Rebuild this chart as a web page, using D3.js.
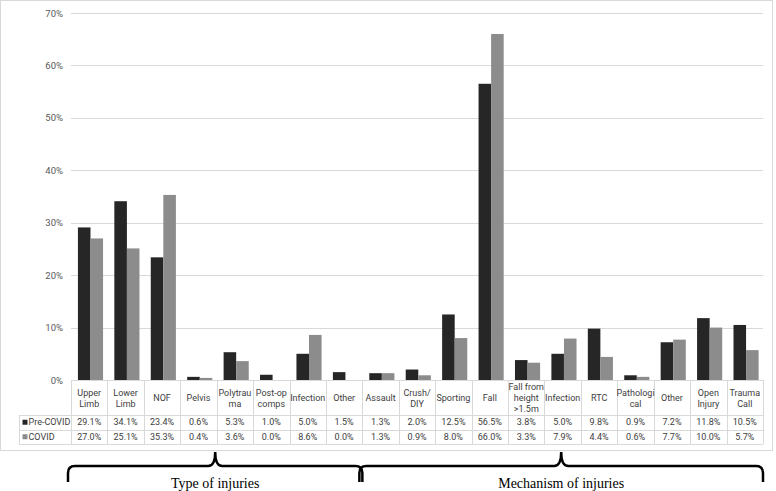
<!DOCTYPE html>
<html>
<head>
<meta charset="utf-8">
<script src="https://cdn.jsdelivr.net/npm/d3@7"></script>
<style>
  body { margin: 0; background: #fff; }
  svg text { font-family: Roboto, "Liberation Sans", sans-serif; }
</style>
</head>
<body>
<svg id="chart" width="776" height="491"></svg>
<script>
const categories = [
  "Upper\nLimb", "Lower\nLimb", "NOF", "Pelvis", "Polytrau\nma", "Post-op\ncomps",
  "Infection", "Other", "Assault", "Crush/\nDIY", "Sporting", "Fall",
  "Fall from\nheight\n>1.5m", "Infection", "RTC", "Pathologi\ncal", "Other",
  "Open\nInjury", "Trauma\nCall"
];
const preCovid = [29.1, 34.1, 23.4, 0.6, 5.3, 1.0, 5.0, 1.5, 1.3, 2.0, 12.5, 56.5, 3.8, 5.0, 9.8, 0.9, 7.2, 11.8, 10.5];
const covid = [27.0, 25.1, 35.3, 0.4, 3.6, 0.0, 8.6, 0.0, 1.3, 0.9, 8.0, 66.0, 3.3, 7.9, 4.4, 0.6, 7.7, 10.0, 5.7];
const seriesNames = ["Pre-COVID", "COVID"];
const yTicks = [0, 10, 20, 30, 40, 50, 60, 70];
const groups = [
  { name: "Type of injuries", from: 0, to: 7 },
  { name: "Mechanism of injuries", from: 8, to: 18 }
];

const colors = ["#262626", "#8c8c8c"];
const gridColor = "#d9d9d9";
const textColor = "#404040";
const svg = d3.select("#chart");

// outer chart frame
svg.append("rect")
  .attr("x", 0.5).attr("y", 0.5)
  .attr("width", 772).attr("height", 450)
  .attr("fill", "none").attr("stroke", gridColor);

const x = d3.scaleBand().domain(d3.range(categories.length)).range([71, 763]).padding(0);
const y = d3.scaleLinear().domain([0, 70]).range([380, 13]);
const inner = d3.scaleBand().domain([0, 1]).range([0, x.bandwidth() * 0.69]);
const off = x.bandwidth() * 0.19;

// gridlines + y labels
const g = svg.append("g");
g.selectAll("line.grid")
  .data(yTicks)
  .enter()
  .append("line")
  .attr("x1", 71).attr("x2", 763)
  .attr("y1", (d) => Math.round(y(d)) + 0.5)
  .attr("y2", (d) => Math.round(y(d)) + 0.5)
  .attr("stroke", gridColor);

g.selectAll("text.ytick")
  .data(yTicks)
  .enter()
  .append("text")
  .attr("x", 63)
  .attr("y", (d) => y(d) + 3.5)
  .attr("text-anchor", "end")
  .attr("font-size", 9.5)
  .attr("fill", "#595959")
  .text((d) => d + "%");

// bars
const series = [preCovid, covid];
series.forEach((vals, s) => {
  g.selectAll("rect.s" + s)
    .data(vals)
    .enter()
    .append("rect")
    .attr("x", (d, i) => x(i) + off + inner(s))
    .attr("y", (d) => y(d))
    .attr("width", inner.bandwidth())
    .attr("height", (d) => y(0) - y(d))
    .attr("fill", colors[s]);
});

// data table
const rowTop = [415, 429.5];
const rowBottom = 444;
const t = svg.append("g");
d3.range(categories.length + 1).forEach((i) => {
  const xx = Math.round(i < categories.length ? x(i) : x.range()[1]) + 0.5;
  t.append("line")
    .attr("x1", xx).attr("x2", xx)
    .attr("y1", 380).attr("y2", rowBottom)
    .attr("stroke", gridColor);
});
t.append("line")
  .attr("x1", 19.5).attr("x2", 19.5)
  .attr("y1", rowTop[0]).attr("y2", rowBottom)
  .attr("stroke", gridColor);
[rowTop[0], rowTop[1], rowBottom].forEach((yy) => {
  t.append("line")
    .attr("x1", 19).attr("x2", 763)
    .attr("y1", Math.round(yy) + 0.5).attr("y2", Math.round(yy) + 0.5)
    .attr("stroke", gridColor);
});

// header labels
categories.forEach((c, i) => {
  const lines = c.split("\n");
  const cy = 398;
  const lh = 11;
  const txt = t.append("text")
    .attr("text-anchor", "middle")
    .attr("font-size", 9)
    .attr("fill", textColor);
  lines.forEach((ln, k) => {
    txt.append("tspan")
      .attr("x", x(i) + x.bandwidth() / 2)
      .attr("y", cy + 3.2 + (k - (lines.length - 1) / 2) * lh)
      .text(ln);
  });
});

// value rows
series.forEach((vals, s) => {
  const cy = (rowTop[s] + (s === 0 ? rowTop[1] : rowBottom)) / 2;
  t.selectAll("text.v" + s)
    .data(vals)
    .enter()
    .append("text")
    .attr("x", (d, i) => x(i) + x.bandwidth() / 2)
    .attr("y", cy + 3.2)
    .attr("text-anchor", "middle")
    .attr("font-size", 9)
    .attr("fill", textColor)
    .text((d) => d.toFixed(1) + "%");
  t.append("rect")
    .attr("x", 22.5).attr("y", cy - 2.5)
    .attr("width", 5).attr("height", 5)
    .attr("fill", colors[s]);
  t.append("text")
    .attr("x", 28.5).attr("y", cy + 3.2)
    .attr("font-size", 9)
    .attr("fill", textColor)
    .text(seriesNames[s]);
});

// braces below the chart
const yTip = 452, yH = 466, yEnd = 482, r = 7;
groups.forEach((gr) => {
  const x0 = x(gr.from) - 3;
  const x1 = x(gr.to) + x.bandwidth() + 0;
  const xm = (x0 + x1) / 2;
  const p = d3.path();
  p.moveTo(x0, yEnd);
  p.lineTo(x0, yH + r);
  p.quadraticCurveTo(x0, yH, x0 + r, yH);
  p.lineTo(xm - r, yH);
  p.quadraticCurveTo(xm, yH, xm, yTip);
  p.quadraticCurveTo(xm, yH, xm + r, yH);
  p.lineTo(x1 - r, yH);
  p.quadraticCurveTo(x1, yH, x1, yH + r);
  p.lineTo(x1, yEnd);
  svg.append("path")
    .attr("d", p.toString())
    .attr("fill", "none")
    .attr("stroke", "#000")
    .attr("stroke-width", 2.5);
  svg.append("text")
    .attr("x", xm)
    .attr("y", 488)
    .attr("text-anchor", "middle")
    .style("font-family", "'Liberation Serif', serif")
    .attr("font-size", 14)
    .attr("fill", "#000")
    .text(gr.name);
});
</script>
</body>
</html>
